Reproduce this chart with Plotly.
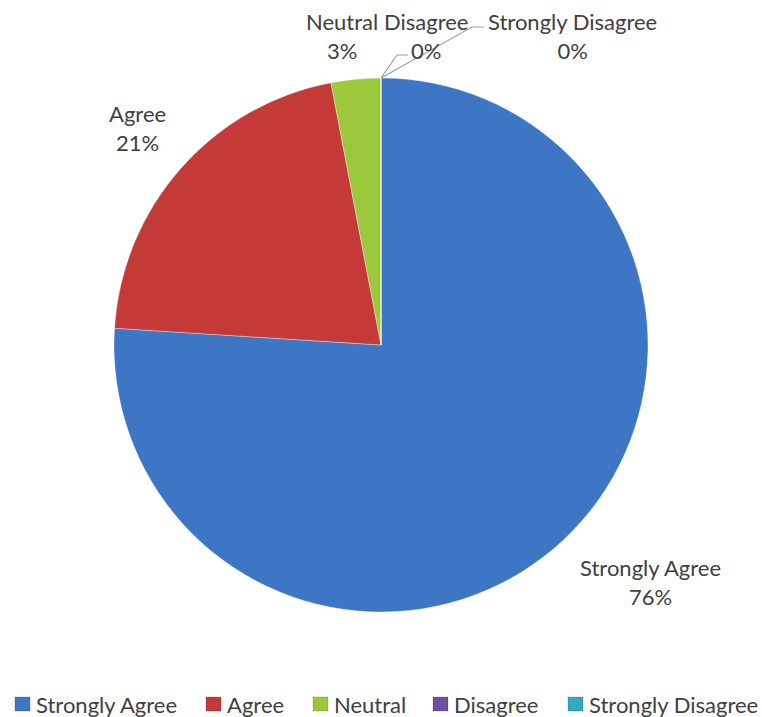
import plotly.graph_objects as go

# Survey response shares (percent)
categories = ["Strongly Agree", "Agree", "Neutral", "Disagree", "Strongly Disagree"]
shares = [76, 21, 3, 0, 0]
colors = ["#3c76c4", "#c33a38", "#9cc83b", "#6f4fa0", "#33a9c6"]

W, H = 762, 717
FONT = "Lato"
TXT = "#404040"
FS = 22

def px(x):
    return x / W

def py(y):
    return 1 - y / H

total = sum(shares)
pct = [round(100 * v / total) for v in shares]

fig = go.Figure()
fig.add_trace(go.Pie(
    labels=categories,
    values=shares,
    sort=False,
    direction="clockwise",
    rotation=0,
    marker=dict(colors=colors, line=dict(color="rgba(255,255,255,0.35)", width=1)),
    textinfo="none",
    hoverinfo="label+percent",
    showlegend=False,
    domain=dict(x=[px(114), px(648)], y=[py(612), py(78)]),
))

# Data labels: (center x, first-line center y) in pixels
label_pos = [(650, 568), (137, 114), (342, 22), (426, 22), (572, 22)]
annotations = []
for name, p, (x, y) in zip(categories, pct, label_pos):
    annotations.append(dict(
        x=px(x), y=py(y + 14), xref="paper", yref="paper",
        text=f"{name}<br>{p}%", showarrow=False,
        font=dict(family=FONT, size=FS, color=TXT),
        xanchor="center", yanchor="middle", align="center",
    ))

shapes = []
# Leader lines for the small slices
leader = "#a0a0a0"
for pts in ([(381, 78), (397, 55), (408, 55)], [(381, 78), (472, 27), (484, 27)]):
    path = "M " + " L ".join(f"{px(a)},{py(b)}" for a, b in pts)
    shapes.append(dict(type="path", path=path, xref="paper", yref="paper",
                       line=dict(color=leader, width=1.2)))

# Legend row along the bottom
legend_x = [15, 206, 313, 433, 568]
ly = 704
for name, c, x in zip(categories, colors, legend_x):
    shapes.append(dict(type="rect", xref="paper", yref="paper",
                       x0=px(x), x1=px(x + 15), y0=py(ly + 7), y1=py(ly - 7),
                       fillcolor=c, line=dict(color="rgba(0,0,0,0.25)", width=0.6)))
    annotations.append(dict(
        x=px(x + 19), y=py(ly), xref="paper", yref="paper",
        text=name, showarrow=False, xanchor="left", yanchor="middle",
        font=dict(family=FONT, size=FS, color=TXT),
    ))

fig.update_layout(
    width=W, height=H,
    margin=dict(l=0, r=0, t=0, b=0),
    paper_bgcolor="white",
    plot_bgcolor="white",
    annotations=annotations,
    shapes=shapes,
)

fig.write_html("out.html")
